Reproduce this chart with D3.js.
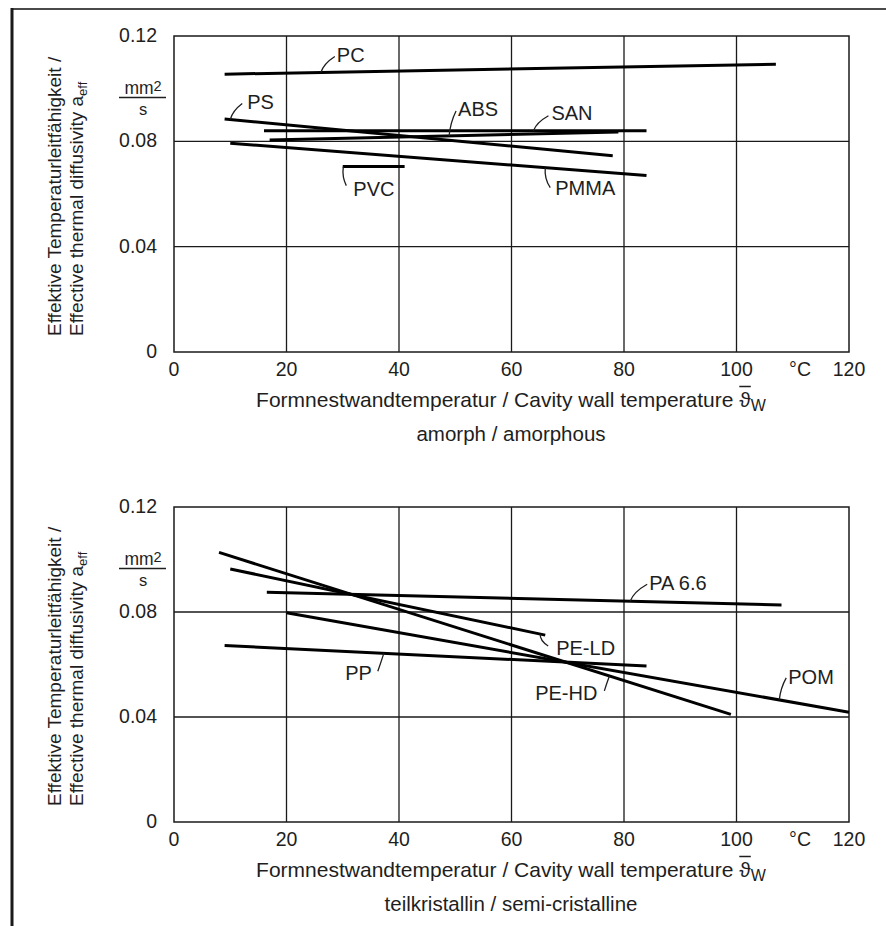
<!DOCTYPE html>
<html><head><meta charset="utf-8">
<script src="https://cdn.jsdelivr.net/npm/d3@7"></script>
<style>
body{margin:0;background:#fff}
svg{display:block}
text{font-family:"Liberation Sans",Arial,Helvetica,sans-serif;fill:#1e1e1e}
</style>
</head><body>
<svg id="chart" width="886" height="926"></svg>
<script>
// ---------- data ----------
const xTicks = [0, 20, 40, 60, 80, 100, 120];
const yTicks = [0, 0.04, 0.08, 0.12];
const xUnitLabel = "°C";
const xUnitAt = 111.3;
const xTitle = "Formnestwandtemperatur / Cavity wall temperature ";
const xTitleSymbol = "ϑ";
const xTitleSub = "W";
const yTitle1 = "Effektive Temperaturleitfähigkeit /";
const yTitle2 = "Effective thermal diffusivity a";
const yTitle2Sub = "eff";
const unitNum = "mm";
const unitSup = "2";
const unitDen = "s";

// amorphous panel: [temperature °C, diffusivity mm²/s] end points
const amorphNames = ["PC", "PS", "SAN", "ABS", "PVC", "PMMA"];
const amorphValues = [
  [[9, 0.1055], [107, 0.1093]],
  [[9, 0.0885], [78, 0.0745]],
  [[16, 0.0840], [84, 0.0840]],
  [[17, 0.0805], [79, 0.0835]],
  [[30, 0.0704], [41, 0.0704]],
  [[10, 0.0793], [84, 0.0670]]
];
const amorphLabelAt = [26.1, 10, 63.9, 48.9, 30.1, 66];
const amorphSubtitle = "amorph / amorphous";

// semi-crystalline panel
const semiNames = ["PA 6.6", "PE-LD", "POM", "PE-HD", "PP"];
const semiValues = [
  [[16.5, 0.0875], [108, 0.0827]],
  [[10, 0.0964], [66, 0.0712]],
  [[20, 0.0797], [120, 0.0418]],
  [[8, 0.1027], [99, 0.0410]],
  [[9, 0.0672], [84, 0.0594]]
];
const semiLabelAt = [81.1, 65.1, 107.6, 77.4, 37.3];
const semiSubtitle = "teilkristallin / semi-cristalline";

// ---------- layout / style (pixels) ----------
// leader offsets [ldx, ldy, textDx, textDy, anchor]
const amorphLeader = [
  [14, -16, 2, 6, "start"],
  [12, -16, 5, 6, "start"],
  [15, -15, 3, 4, "start"],
  [7, -25, 2, 5, "start"],
  [3, 19, 7, 10, "start"],
  [5, 20, 5, 7, "start"]
];
const semiLeader = [
  [17, -17, 2, 6, "start"],
  [8, 12, 8, 9, "start"],
  [7, -22, 2, 6, "start"],
  [-5, 15, -7, 9, "end"],
  [-6, 18, -6, 9, "end"]
];

const svg = d3.select("#chart");
const W = 886, H = 926;
svg.append("rect").attr("width", W).attr("height", H).attr("fill", "#fff");

// outer frame (top and left edges)
svg.append("line").attr("x1", 11).attr("x2", W).attr("y1", 9).attr("y2", 9)
  .attr("stroke", "#4a4a4a").attr("stroke-width", 2);
svg.append("line").attr("x1", 12).attr("x2", 12).attr("y1", 8).attr("y2", H)
  .attr("stroke", "#1a1a1a").attr("stroke-width", 3);

const x = d3.scaleLinear().domain([0, 120]).range([174, 849]);

function panel(top, bottom, names, values, labelAt, leaders, subtitle) {
  const y = d3.scaleLinear().domain([0, 0.12]).range([bottom, top]);
  const g = svg.append("g");

  // grid
  g.selectAll(".vg").data(xTicks.slice(1, -1)).join("line")
    .attr("x1", d => x(d)).attr("x2", d => x(d))
    .attr("y1", top).attr("y2", bottom)
    .attr("stroke", "#1a1a1a").attr("stroke-width", 1.3);
  g.selectAll(".hg").data(yTicks.slice(1, -1)).join("line")
    .attr("x1", x(0)).attr("x2", x(120))
    .attr("y1", d => y(d)).attr("y2", d => y(d))
    .attr("stroke", "#1a1a1a").attr("stroke-width", 1.3);
  g.append("rect").attr("x", x(0)).attr("y", top)
    .attr("width", x(120) - x(0)).attr("height", bottom - top)
    .attr("fill", "none").attr("stroke", "#1a1a1a").attr("stroke-width", 1.5);

  // tick labels
  g.selectAll(".xt").data(xTicks).join("text")
    .attr("x", d => x(d)).attr("y", bottom + 23.5)
    .attr("text-anchor", "middle").attr("font-size", 19.5)
    .text(d => d);
  g.append("text").attr("x", x(xUnitAt)).attr("y", bottom + 23.5)
    .attr("text-anchor", "middle").attr("font-size", 19.5).text(xUnitLabel);
  g.selectAll(".yt").data(yTicks).join("text")
    .attr("x", 157).attr("y", d => y(d) + 6)
    .attr("text-anchor", "end").attr("font-size", 19.5)
    .text(d => d === 0 ? "0" : d3.format(".2f")(d));

  // unit mm²/s
  const ut = g.append("text").attr("x", 143).attr("y", top + 58)
    .attr("text-anchor", "middle").attr("font-size", 17.5);
  ut.append("tspan").text(unitNum);
  ut.append("tspan").attr("font-size", 14.5).attr("dy", -3).text(unitSup);
  g.append("line").attr("x1", 119).attr("x2", 166)
    .attr("y1", top + 61.5).attr("y2", top + 61.5)
    .attr("stroke", "#1e1e1e").attr("stroke-width", 1.3);
  g.append("text").attr("x", 143).attr("y", top + 79)
    .attr("text-anchor", "middle").attr("font-size", 16.5).text(unitDen);

  // y title (rotated)
  g.append("text").attr("transform", `translate(61,${bottom - 16}) rotate(-90)`)
    .attr("font-size", 19).text(yTitle1);
  const yt2 = g.append("text").attr("transform", `translate(83,${bottom - 16}) rotate(-90)`)
    .attr("font-size", 19);
  yt2.append("tspan").text(yTitle2);
  yt2.append("tspan").attr("font-size", 13).attr("dy", 4).text(yTitle2Sub);

  // x title
  const xt = g.append("text").attr("x", 511).attr("y", bottom + 54.5)
    .attr("text-anchor", "middle").attr("font-size", 21);
  xt.append("tspan").text(xTitle);
  xt.append("tspan").text(xTitleSymbol);
  xt.append("tspan").attr("font-size", 16).attr("dy", 4.5).text(xTitleSub);
  const n = xt.node();
  const idx = xTitle.length;
  try {
    const s = n.getStartPositionOfChar(idx), e = n.getEndPositionOfChar(idx);
    g.append("line").attr("x1", s.x).attr("x2", e.x)
      .attr("y1", bottom + 34.5).attr("y2", bottom + 34.5)
      .attr("stroke", "#1e1e1e").attr("stroke-width", 1.5);
  } catch (err) {}

  // subtitle
  g.append("text").attr("x", 511).attr("y", bottom + 89)
    .attr("text-anchor", "middle").attr("font-size", 20.5).text(subtitle);

  // series lines
  const line = d3.line().x(d => x(d[0])).y(d => y(d[1]));
  g.selectAll(".series").data(values).join("path")
    .attr("d", line).attr("fill", "none")
    .attr("stroke", "#000").attr("stroke-width", 3);

  // labels with leaders
  names.forEach((name, i) => {
    const pts = values[i];
    const t = labelAt[i];
    const a = pts[0][1] + (pts[1][1] - pts[0][1]) * (t - pts[0][0]) / (pts[1][0] - pts[0][0]);
    const sx = x(t), sy = y(a);
    const [ldx, ldy, tdx, tdy, anchor] = leaders[i];
    const ex = sx + ldx, ey = sy + ldy;
    const cx = sx + ldx * 0.2 + (ldy < 0 ? 0 : -2), cy = sy + ldy * 0.55;
    g.append("path").attr("d", `M${sx},${sy}Q${cx},${cy} ${ex},${ey}`)
      .attr("fill", "none").attr("stroke", "#1e1e1e").attr("stroke-width", 1.3);
    g.append("text").attr("x", ex + tdx).attr("y", ey + tdy)
      .attr("text-anchor", anchor).attr("font-size", 20).text(name);
  });
}

panel(36, 352, amorphNames, amorphValues, amorphLabelAt, amorphLeader, amorphSubtitle);
panel(507, 822, semiNames, semiValues, semiLabelAt, semiLeader, semiSubtitle);
</script>
</body></html>
